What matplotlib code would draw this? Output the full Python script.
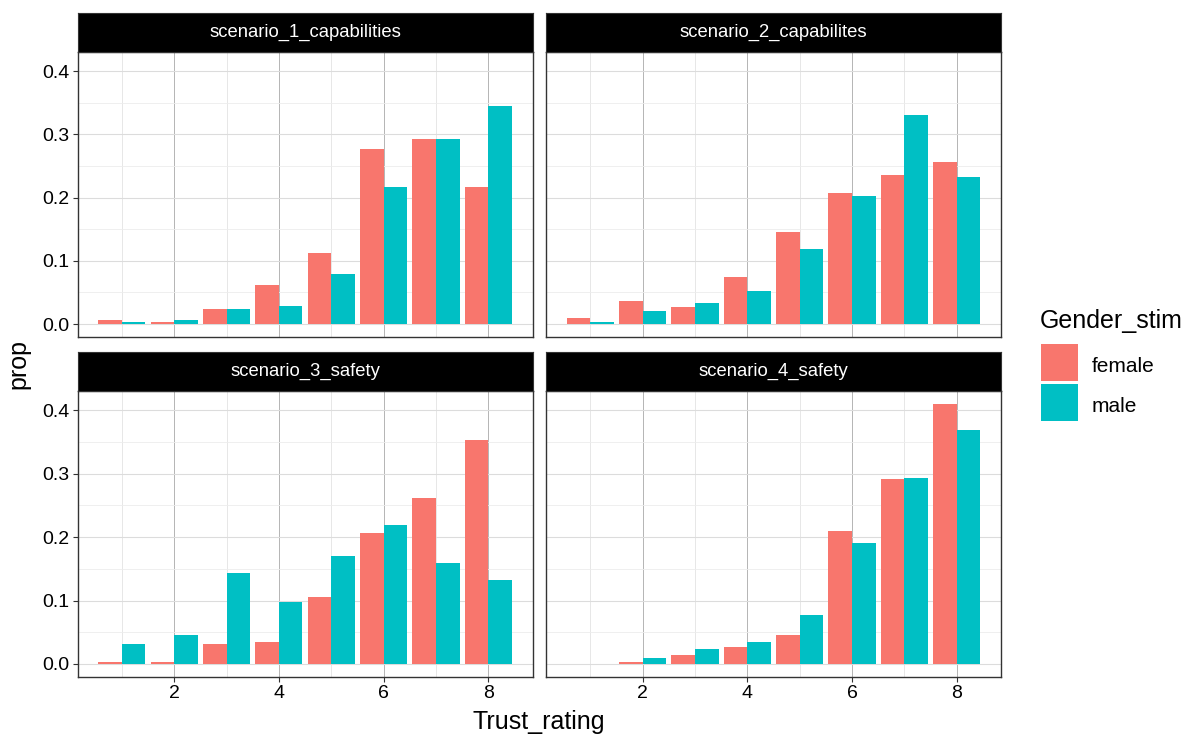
import matplotlib
matplotlib.use('Agg')
import matplotlib.pyplot as plt
from matplotlib.patches import Rectangle
import numpy as np

plt.rcParams['font.family'] = ['Liberation Sans', 'DejaVu Sans']

# Data
ratings = [1, 2, 3, 4, 5, 6, 7, 8]
scenarios = ['scenario_1_capabilities', 'scenario_2_capabilites',
             'scenario_3_safety', 'scenario_4_safety']

female_s1 = [0.007, 0.003, 0.024, 0.062, 0.113, 0.277, 0.293, 0.217]
male_s1 = [0.003, 0.006, 0.024, 0.028, 0.079, 0.217, 0.293, 0.345]
female_s2 = [0.010, 0.037, 0.027, 0.075, 0.145, 0.208, 0.236, 0.256]
male_s2 = [0.003, 0.020, 0.034, 0.052, 0.119, 0.202, 0.331, 0.233]
female_s3 = [0.003, 0.003, 0.031, 0.034, 0.105, 0.206, 0.261, 0.353]
male_s3 = [0.031, 0.045, 0.143, 0.097, 0.170, 0.219, 0.160, 0.132]
female_s4 = [0.0, 0.003, 0.014, 0.027, 0.045, 0.209, 0.291, 0.410]
male_s4 = [0.0, 0.010, 0.024, 0.034, 0.077, 0.191, 0.293, 0.369]

female = [female_s1, female_s2, female_s3, female_s4]
male = [male_s1, male_s2, male_s3, male_s4]

groups = ['female', 'male']
col_f = '#F8766D'
col_m = '#00BFC4'

W, H = 1192, 738
fig = plt.figure(figsize=(W / 100, H / 100), dpi=100)

# panel boxes in pixels: left, top, right, bottom
panels = [(77.5, 52, 532.7, 337), (546, 52, 1001, 337),
          (77.5, 391, 532.7, 677), (546, 391, 1001, 677)]
strip_h = 39

x = np.array(ratings)
w = 0.45
for i, (l, t, r, b) in enumerate(panels):
    ax = fig.add_axes([l / W, (H - b) / H, (r - l) / W, (b - t) / H])
    ax.set_axisbelow(True)
    ax.bar(x - w / 2, female[i], width=w, color=col_f)
    ax.bar(x + w / 2, male[i], width=w, color=col_m)
    ax.set_xlim(0.155, 8.845)
    ax.set_ylim(-0.0205, 0.4305)

    # grid
    for xv in [1, 3, 5, 7]:
        ax.axvline(xv, color='#e3e3e3', lw=0.6, zorder=0)
    for xv in [2, 4, 6, 8]:
        ax.axvline(xv, color='#a8a8a8', lw=0.6, zorder=0)
    for yv in [0.05, 0.15, 0.25, 0.35]:
        ax.axhline(yv, color='#ececec', lw=0.6, zorder=0)
    for yv in [0, 0.1, 0.2, 0.3, 0.4]:
        ax.axhline(yv, color='#dcdcdc', lw=0.8, zorder=0)

    ax.set_xticks([2, 4, 6, 8])
    ax.set_yticks([0, 0.1, 0.2, 0.3, 0.4])
    ax.set_yticklabels(['0.0', '0.1', '0.2', '0.3', '0.4'])
    ax.tick_params(length=3.5, width=0.8, color='#333333', labelsize=14,
                   labelcolor='black', pad=2)
    if i % 2 == 1:
        ax.tick_params(axis='y', left=False, labelleft=False)
    if i < 2:
        ax.tick_params(axis='x', bottom=False, labelbottom=False)
    for s in ax.spines.values():
        s.set_color('#333333')
        s.set_linewidth(1.0)

    # strip
    sax = fig.add_axes([l / W, (H - t) / H, (r - l) / W, strip_h / H])
    sax.set_facecolor('black')
    sax.set_xticks([])
    sax.set_yticks([])
    for s in sax.spines.values():
        s.set_color('#333333')
    sax.text(0.5, 0.5, scenarios[i], color='white', fontsize=13.3,
             ha='center', va='center', transform=sax.transAxes)

fig.text(18 / W, 1 - 364 / H, 'prop', rotation=90, ha='center', va='center',
         fontsize=18)
fig.text(539 / W, 1 - 722 / H, 'Trust_rating', ha='center', va='center',
         fontsize=18)

# legend, drawn like ggplot's guide
fig.text(1040 / W, 1 - 328 / H, 'Gender_stim', ha='left', va='baseline',
         fontsize=18)
key_top = 344
for j, (lab, c) in enumerate(zip(groups, [col_f, col_m])):
    top = key_top + j * 40
    fig.add_artist(Rectangle((1041 / W, 1 - (top + 37) / H), 37 / W, 37 / H,
                             transform=fig.transFigure, facecolor=c,
                             edgecolor='none'))
    fig.text(1092 / W, 1 - (top + 28) / H, lab, ha='left', va='baseline',
             fontsize=15)

fig.savefig('out.png', dpi=100)
